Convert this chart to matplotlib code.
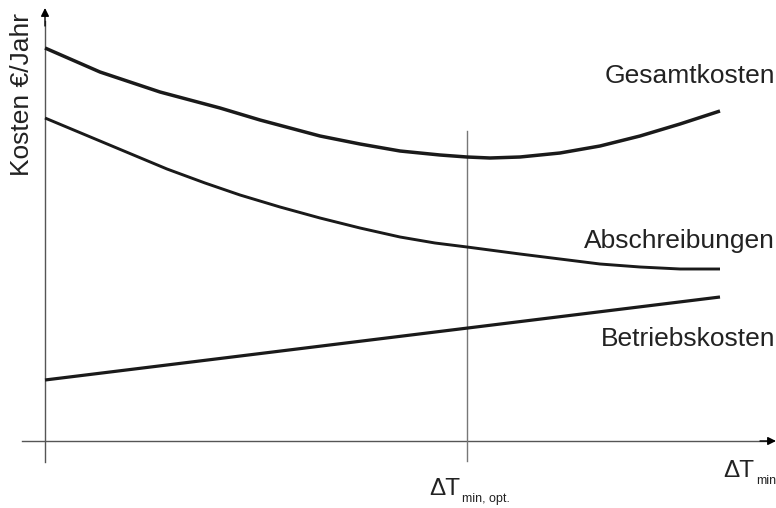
import matplotlib
matplotlib.use("Agg")
import matplotlib.pyplot as plt

plt.rcParams['font.family'] = ['Liberation Sans', 'DejaVu Sans']

# Kostenverlauf über dT_min (willkürliche Einheiten)
x_ges = [0, 55, 115, 175, 215, 245, 275, 315, 355, 395, 422, 445, 475, 515, 555, 595, 635, 675]
y_ges = [393, 369, 349, 333, 321, 313, 305, 297, 290, 286, 284, 283, 284, 288, 295, 305, 317, 330]

x_abs = [0, 55, 122, 160, 195, 235, 275, 315, 355, 390, 422, 475, 515, 555, 595, 635, 675]
y_abs = [323, 300, 272, 258, 246, 234, 223, 213, 204, 198, 194, 187, 182, 177, 174, 172, 172]

x_bet = [0, 675]
y_bet = [61, 144]

x_opt = 422

fig = plt.figure(figsize=(7.76, 5.08), dpi=100)
ax = fig.add_axes([0, 0, 1, 1])
ax.set_xlim(-45, 731)
ax.set_ylim(-67, 441)
ax.axis('off')

axcol = '#555555'
# Achsen mit Pfeilen
ax.plot([-23, 722], [0, 0], color=axcol, lw=1.0)
ax.plot([0, 0], [-21, 420], color=axcol, lw=1.0)
ax.annotate('', xy=(731, 0), xytext=(715, 0),
            arrowprops=dict(arrowstyle='-|>', color='black', lw=1.0,
                            mutation_scale=12, shrinkA=0, shrinkB=0))
ax.annotate('', xy=(0, 433), xytext=(0, 415),
            arrowprops=dict(arrowstyle='-|>', color='black', lw=1.0,
                            mutation_scale=12, shrinkA=0, shrinkB=0))

# optimales dT_min
ax.plot([x_opt, x_opt], [-20, 310], color='#777777', lw=1.0)

kw = dict(color='#1a1a1a', solid_capstyle='butt', solid_joinstyle='round')
ax.plot(x_ges, y_ges, lw=2.5, **kw)
ax.plot(x_abs, y_abs, lw=2.1, **kw)
ax.plot(x_bet, y_bet, lw=2.3, **kw)

tc = '#222222'
fs = 19
ax.text(730, 365, 'Gesamtkosten', fontsize=fs, ha='right', va='center', color=tc)
ax.text(730, 200, 'Abschreibungen', fontsize=fs, ha='right', va='center', color=tc)
ax.text(730, 102, 'Betriebskosten', fontsize=fs, ha='right', va='center', color=tc)
ax.text(-23, 346, 'Kosten €/Jahr', fontsize=fs, rotation=90, ha='center', va='center', color=tc)

# Achsbeschriftung dT mit tiefgestelltem Index
ax.text(415, -54, 'ΔT', fontsize=17.5, ha='right', va='baseline', color=tc)
ax.text(417, -61, 'min, opt.', fontsize=9, ha='left', va='baseline', color=tc)
ax.text(709, -36, 'ΔT', fontsize=17.5, ha='right', va='baseline', color=tc)
ax.text(711, -43, 'min', fontsize=9, ha='left', va='baseline', color=tc)

fig.savefig('out.png', dpi=100)
